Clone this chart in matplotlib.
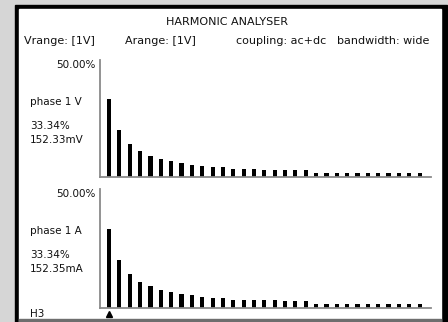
import matplotlib
matplotlib.use('Agg')
import matplotlib.pyplot as plt
from matplotlib.patches import Rectangle
from matplotlib.transforms import blended_transform_factory

# harmonic orders shown (odd harmonics) and their levels in % of fundamental
orders = [3, 5, 7, 9, 11, 13, 15, 17, 19, 21, 23, 25, 27, 29, 31, 33,
          35, 37, 39, 41, 43, 45, 47, 49, 51, 53, 55, 57, 59, 61, 63]
volt_pct = [33.34, 20.0, 14.3, 11.1, 9.1, 7.7, 6.7, 5.9, 5.3, 4.6, 4.3, 4.2,
            3.4, 3.3, 3.3, 3.2, 3.2, 3.0, 2.9, 2.9, 1.8, 1.8, 1.8, 1.8, 1.8,
            1.8, 1.7, 1.7, 1.7, 1.6, 1.6]
amp_pct = [33.34, 20.0, 14.3, 11.1, 9.1, 7.7, 6.7, 5.9, 5.3, 4.6, 4.3, 4.2,
           3.4, 3.3, 3.3, 3.2, 3.2, 3.0, 2.9, 2.9, 1.8, 1.8, 1.8, 1.8, 1.8,
           1.8, 1.7, 1.7, 1.7, 1.6, 1.6]

header = ['Vrange: [1V]', 'Arange: [1V]', 'coupling: ac+dc', 'bandwidth: wide']
panels = [('phase 1 V', '33.34%', '152.33mV', volt_pct),
          ('phase 1 A', '33.34%', '152.35mA', amp_pct)]
scale_max = 50.0

W, H = 448, 322
fig = plt.figure(figsize=(W / 100, H / 100), dpi=100)
fig.patch.set_facecolor('#d6d6d6')


def px(x, y):
    # pixel coords (from top-left) -> figure fraction
    return x / W, 1 - y / H


def rect(x0, y0, x1, y1, color):
    fig.patches.append(Rectangle(px(x0, y1), (x1 - x0) / W, (y1 - y0) / H,
                                 transform=fig.transFigure, color=color,
                                 zorder=-5))


rect(15, 5, 447, 322, 'black')
rect(19, 9, 441, 322, 'white')
rect(19, 319, 441, 322, '#6e6e6e')


def txt(x, y, s, ha='left', size=7.5):
    fig.text(*px(x, y), s, ha=ha, va='center', fontsize=size, color='#111111')


txt(227, 22, 'HARMONIC ANALYSER', ha='center', size=8)
for x, s in zip([24, 125, 236, 337], header):
    txt(x, 41, s, size=8)

gray = '#8a8a8a'
tops = [60, 189]
bases = [177, 308]
for (name, pct, val, data), top, base in zip(panels, tops, bases):
    x0, y0 = px(100, base)
    x1, y1 = px(431, top)
    ax = fig.add_axes([x0, y0, x1 - x0, y1 - y0])
    ax.patch.set_visible(False)
    ax.bar(orders, data, width=0.8, color='black')
    ax.set_xlim(1.25, 65.2)
    ax.set_ylim(0, scale_max)
    ax.set_xticks([])
    ax.set_yticks([])
    for s in ['top', 'right']:
        ax.spines[s].set_visible(False)
    for s in ['left', 'bottom']:
        ax.spines[s].set_color(gray)
        ax.spines[s].set_linewidth(1.3)
    txt(96, top + 5, '%.2f%%' % scale_max, ha='right')
    txt(30, top + 42, name)
    txt(30, top + 66, pct)
    txt(30, top + 80, val)
    last_ax = ax

# selected harmonic cursor
tr = blended_transform_factory(last_ax.transData, last_ax.transAxes)
last_ax.plot([orders[0]], [-0.05], marker='^', color='black', ms=4.5,
             transform=tr, clip_on=False)
txt(30, 314, 'H%d' % orders[0])

fig.savefig('out.png', dpi=100, facecolor=fig.get_facecolor())
